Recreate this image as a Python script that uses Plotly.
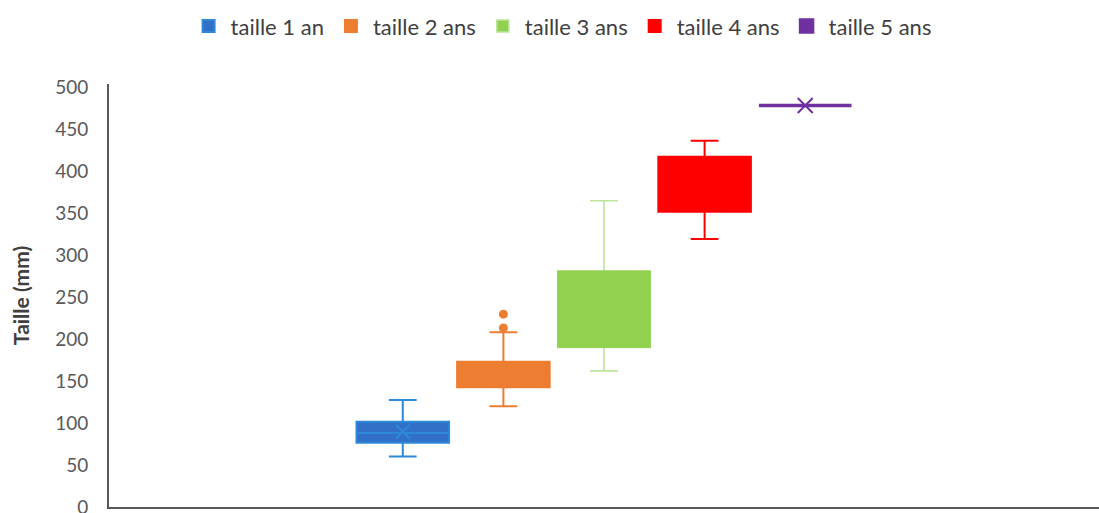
import plotly.graph_objects as go

# Size distribution by age (mm)
series = ["taille 1 an", "taille 2 ans", "taille 3 ans", "taille 4 ans", "taille 5 ans"]
lower_whisker = [60, 120, 162, 319, 478]
q1 = [76.5, 142.5, 190, 351.5, 478]
median = [88, 158, 235, 385, 478]
q3 = [101.5, 173, 281, 417, 478]
upper_whisker = [127.5, 208, 364.5, 436, 478]
means = [89.6, None, None, None, 478]
outliers_2ans = [229.5, 213]

fill_colors = ["#3170C6", "#ED7D31", "#92D050", "#FF0000", "#7030A0"]
line_colors = ["#2E88DA", "#ED7D31", "#BDE49C", "#FF0000", "#7030A0"]
line_widths = [2, 2, 1.6, 2, 3.5]

FONT = "Lato"
fig = go.Figure()

for i, name in enumerate(series):
    fig.add_trace(go.Box(
        name=name, x=[i],
        q1=[q1[i]], median=[median[i]], q3=[q3[i]],
        lowerfence=[lower_whisker[i]], upperfence=[upper_whisker[i]],
        width=0.92, whiskerwidth=0.3, boxpoints=False,
        fillcolor=fill_colors[i],
        line=dict(color=line_colors[i], width=line_widths[i]),
        hoverinfo="skip",
    ))
    if i == 2:
        # the 3-year box body is drawn flat, without an inner median line
        fig.add_trace(go.Box(
            x=[i], q1=[q1[i]], median=[q1[i]], q3=[q3[i]],
            lowerfence=[q1[i]], upperfence=[q3[i]],
            width=0.92, whiskerwidth=0, boxpoints=False,
            fillcolor=fill_colors[i],
            line=dict(color=fill_colors[i], width=1),
            showlegend=False, hoverinfo="skip",
        ))

# mean markers
for i, m in enumerate(means):
    if m is None:
        continue
    fig.add_trace(go.Scatter(
        x=[i], y=[m], mode="markers", showlegend=False, hoverinfo="skip",
        marker=dict(symbol="x-thin", size=14 if i == 0 else 15,
                    line=dict(color=line_colors[i], width=2)),
    ))

# outliers of the 2-year series
fig.add_trace(go.Scatter(
    x=[1] * len(outliers_2ans), y=outliers_2ans, mode="markers",
    showlegend=False, hoverinfo="skip",
    marker=dict(symbol="circle", size=9, color=fill_colors[1]),
))

fig.update_layout(
    width=1099, height=513,
    margin=dict(l=109, r=0, t=84, b=6, autoexpand=False),
    paper_bgcolor="white", plot_bgcolor="white",
    font=dict(family=FONT, size=19, color="#595959"),
    showlegend=True,
    legend=dict(
        orientation="h", xref="container", yref="container",
        x=0.511, xanchor="center", y=0.99, yanchor="top",
        font=dict(family=FONT, size=22, color="#404040"),
        itemwidth=34, traceorder="normal",
    ),
    xaxis=dict(
        range=[-2.92, 6.92], showticklabels=False, showgrid=False,
        zeroline=False, showline=True, linecolor="#595959", linewidth=2,
        ticks="", automargin=False,
    ),
    yaxis=dict(
        range=[0, 503.5], tickvals=list(range(0, 501, 50)),
        showgrid=False, zeroline=False, showline=True,
        linecolor="#595959", linewidth=2, ticks="", ticklabelstandoff=15,
        ticklabeloverflow="allow", automargin=False,
        tickfont=dict(family=FONT, size=19, color="#595959"),
        title=dict(text="<b>Taille (mm)</b>", standoff=20,
                   font=dict(family=FONT, size=21, color="#404040")),
    ),
)

fig.write_html("out.html")
